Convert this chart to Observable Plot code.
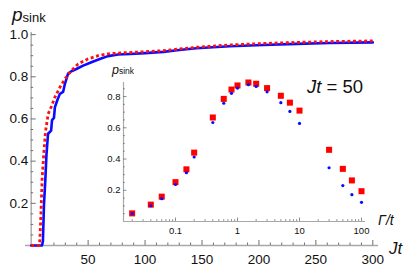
<!DOCTYPE html>
<html><head><meta charset="utf-8">
<script src="https://cdn.jsdelivr.net/npm/d3@7"></script>
<script src="https://cdn.jsdelivr.net/npm/@observablehq/plot@0.6"></script>
<style>
html,body{margin:0;padding:0;background:#fff;overflow:hidden}
#wrap{position:relative;width:415px;height:271px}
#inset{position:absolute;left:100px;top:62px}
</style></head><body><div id="wrap"><div id="main"></div><div id="inset"></div></div>
<script>
// ---- main chart data: p_sink vs Jt ----
const blueJt = [0, 9.5, 10.3, 11.2, 12.4, 13.4, 14.8, 17.5, 18.3, 20.0, 20.8, 23.0, 25.2, 28.0, 29.6, 32.4, 35.3, 39.7, 45.6, 52.9, 60.2, 67.5, 76.3, 86.8, 100, 116, 130, 145, 174.5, 203.7, 233, 262, 300];
const blueP  = [0, 0, 0.02, 0.19, 0.31, 0.43, 0.53, 0.545, 0.595, 0.605, 0.655, 0.69, 0.719, 0.728, 0.766, 0.815, 0.826, 0.837, 0.853, 0.869, 0.884, 0.898, 0.906, 0.908, 0.912, 0.918, 0.927, 0.935, 0.945, 0.951, 0.956, 0.96, 0.963];
const redJt  = [0, 7.0, 7.6, 8.5, 9.6, 11.1, 12.5, 14.9, 17.8, 20.8, 25.2, 29.6, 35.3, 41.2, 50, 58.8, 67.5, 82, 94, 116, 145, 174.5, 203.7, 233, 262, 300];
const redP   = [0, 0, 0.024, 0.14, 0.316, 0.44, 0.537, 0.624, 0.66, 0.703, 0.75, 0.79, 0.829, 0.861, 0.885, 0.9, 0.909, 0.914, 0.917, 0.924, 0.94, 0.951, 0.958, 0.963, 0.967, 0.97];
const mainXMajor = [50, 100, 150, 200, 250, 300];
const mainXMinor = [10, 20, 30, 40, 60, 70, 80, 90, 110, 120, 130, 140, 160, 170, 180, 190, 210, 220, 230, 240, 260, 270, 280, 290];
const mainYMajor = [0.2, 0.4, 0.6, 0.8, 1.0];
const mainYMinor = [0.05, 0.1, 0.15, 0.25, 0.3, 0.35, 0.45, 0.5, 0.55, 0.65, 0.7, 0.75, 0.85, 0.9, 0.95];

// ---- inset data: p_sink at Jt = 50 vs Gamma/t ----
const gammaT   = [0.02, 0.04, 0.06, 0.1, 0.15, 0.2, 0.4, 0.6, 0.8, 1, 1.5, 2, 3, 5, 7, 10, 30, 50, 70, 100];
const insetRed = [0.052, 0.108, 0.159, 0.252, 0.334, 0.441, 0.666, 0.785, 0.845, 0.871, 0.89, 0.882, 0.854, 0.805, 0.761, 0.71, 0.459, 0.337, 0.263, 0.194];
const insetBlue= [0.05, 0.101, 0.146, 0.237, 0.312, 0.413, 0.634, 0.757, 0.821, 0.854, 0.876, 0.865, 0.83, 0.761, 0.705, 0.628, 0.344, 0.23, 0.172, 0.123];
const insetXMajor = [0.1, 1, 10, 100];
const insetXLabels = ["0.1", "1", "10", "100"];
const insetXMinor = [0.02,0.03,0.04,0.05,0.06,0.07,0.08,0.09,0.2,0.3,0.4,0.5,0.6,0.7,0.8,0.9,2,3,4,5,6,7,8,9,20,30,40,50,60,70,80,90];
const insetYMajor = [0.2, 0.4, 0.6, 0.8];
const insetYMinor = [0.05, 0.1, 0.15, 0.25, 0.3, 0.35, 0.45, 0.5, 0.55, 0.65, 0.7, 0.75, 0.85];

const FONT = "Liberation Sans, Arial, Helvetica, sans-serif";
const AX = "#a8a8a8", TK = "#707070";

// ---------- main ----------
const W = 415, H = 271, mL = 25, mR = 37, mT = 32, mB = 26;
const xDom = [-5, 305], yDom = [0, 1.01];
const yU = (yDom[1] - yDom[0]) / (H - mT - mB);
const xU = (xDom[1] - xDom[0]) / (W - mL - mR);
const bIdx = d3.range(blueJt.length), rIdx = d3.range(redJt.length);

const main = Plot.plot({
  width: W, height: H, marginLeft: mL, marginRight: mR, marginTop: mT, marginBottom: mB,
  x: {domain: xDom, axis: null},
  y: {domain: yDom, axis: null},
  style: {fontFamily: FONT, background: "white", overflow: "visible"},
  marks: [
    Plot.ruleY([0], {x1: xDom[0], x2: xDom[1], stroke: AX, strokeWidth: 1.4}),
    Plot.ruleX([0], {y1: 0, y2: yDom[1], stroke: AX, strokeWidth: 1.4}),
    Plot.ruleX(mainXMinor, {y1: 0, y2: 2.5 * yU, stroke: TK, strokeWidth: 1}),
    Plot.ruleX(mainXMajor, {y1: 0, y2: 5 * yU, stroke: TK, strokeWidth: 1}),
    Plot.ruleY(mainYMinor, {x1: 0, x2: 2.5 * xU, stroke: TK, strokeWidth: 1}),
    Plot.ruleY(mainYMajor, {x1: 0, x2: 5 * xU, stroke: TK, strokeWidth: 1}),
    Plot.text(mainXMajor, {x: d => d, y: 0, dy: 14, text: d => String(d), fontSize: 13.5, fill: "#111"}),
    Plot.text(mainYMajor, {x: 0, y: d => d, dx: -3, textAnchor: "end", text: d => d.toFixed(1), fontSize: 13.5, fill: "#111"}),
    Plot.line(bIdx, {x: i => blueJt[i], y: i => blueP[i], stroke: "#0b0bff", strokeWidth: 2.6, strokeLinejoin: "round"}),
    Plot.line(rIdx, {x: i => redJt[i], y: i => redP[i], stroke: "#ff1010", strokeWidth: 2.8, strokeDasharray: "3,2.6", strokeLinecap: "butt"})
  ]
});
document.getElementById("main").appendChild(main);

// ---------- inset ----------
const iW = 300, iH = 180, iL = 23, iR = 35, iT = 20, iB = 21;
const gDom = [0.0145, 116], pDom = [0, 0.89];
const pU = (pDom[1] - pDom[0]) / (iH - iT - iB);
const decPx = (iW - iL - iR) / Math.log10(gDom[1] / gDom[0]);
const gIdx = d3.range(gammaT.length);

const inset = Plot.plot({
  width: iW, height: iH, marginLeft: iL, marginRight: iR, marginTop: iT, marginBottom: iB,
  x: {type: "log", domain: gDom, axis: null},
  y: {domain: pDom, axis: null},
  style: {fontFamily: FONT, background: "transparent", overflow: "visible"},
  marks: [
    Plot.ruleY([0], {x1: gDom[0], x2: gDom[1], stroke: AX, strokeWidth: 1.2}),
    Plot.ruleX([gDom[0]], {y1: 0, y2: pDom[1], stroke: AX, strokeWidth: 1.2}),
    Plot.ruleX(insetXMinor, {y1: 0, y2: 1.8 * pU, stroke: TK, strokeWidth: 0.8}),
    Plot.ruleX(insetXMajor, {y1: 0, y2: 3.5 * pU, stroke: TK, strokeWidth: 0.8}),
    Plot.ruleY(insetYMinor, {x1: gDom[0], x2: gDom[0] * Math.pow(10, 1.8 / decPx), stroke: TK, strokeWidth: 0.8}),
    Plot.ruleY(insetYMajor, {x1: gDom[0], x2: gDom[0] * Math.pow(10, 3.5 / decPx), stroke: TK, strokeWidth: 0.8}),
    Plot.text(insetXMajor, {x: d => d, y: 0, dy: 9.5, text: (d, i) => insetXLabels[i], fontSize: 9.5, fill: "#111"}),
    Plot.text(insetYMajor, {x: gDom[0], y: d => d, dx: -3, textAnchor: "end", text: d => d.toFixed(1), fontSize: 9.5, fill: "#111"}),
    Plot.dot(gIdx, {x: i => gammaT[i], y: i => insetRed[i], symbol: "square", r: 3.4, fill: "#ff0000", stroke: "none"}),
    Plot.dot(gIdx, {x: i => gammaT[i], y: i => insetBlue[i], r: 1.6, fill: "#0a0aff", stroke: "none"})
  ]
});
document.getElementById("inset").appendChild(inset);

// ---------- labels ----------
const svg = d3.select(main);
function label(x, y, size) {
  return svg.append("text").attr("x", x).attr("y", y).attr("font-family", FONT)
    .attr("font-size", size).attr("text-anchor", "start").attr("fill", "#111");
}
function sublabel(x, y, big, small, bigSize, smallSize, dySub) {
  const t = label(x, y, bigSize);
  t.append("tspan").attr("font-style", "italic").text(big);
  t.append("tspan").attr("font-size", smallSize).attr("dy", dySub).text(small);
}
sublabel(12, 20.5, "p", "sink", 19, 13, 1);
sublabel(112, 73.5, "p", "sink", 12.5, 8.5, 0.8);
label(389, 253.5, 17).attr("font-style", "italic").text("Jt");
label(378, 225, 14).attr("font-style", "italic").text("Γ/t");
const j50 = label(307, 92.5, 18.5);
j50.append("tspan").attr("font-style", "italic").text("Jt");
j50.append("tspan").text(" = 50");
</script></body></html>
